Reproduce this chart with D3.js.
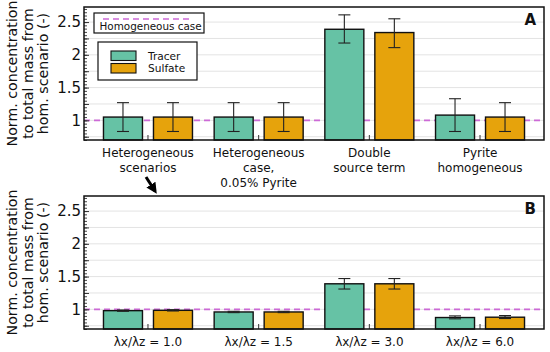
<!DOCTYPE html>
<html><head><meta charset="utf-8">
<script src="https://cdn.jsdelivr.net/npm/d3@7"></script>
<style>body{margin:0;background:#fff}svg{display:block}text{font-family:"DejaVu Sans",sans-serif}</style>
</head><body><svg id="c" width="550" height="352"></svg>
<script>
const categoriesA = [["Heterogeneous","scenarios"],["Heterogeneous","case,","0.05% Pyrite"],["Double","source term"],["Pyrite","homogeneous"]];
const categoriesB = [["λx/λz = 1.0"],["λx/λz = 1.5"],["λx/λz = 3.0"],["λx/λz = 6.0"]];
const series = ["Tracer","Sulfate"];
const tracerA = [1.05, 1.05, 2.39, 1.08];
const tracerALo = [0.83, 0.83, 2.18, 0.83];
const tracerAHi = [1.27, 1.27, 2.61, 1.33];
const sulfateA = [1.05, 1.05, 2.34, 1.05];
const sulfateALo = [0.83, 0.83, 2.11, 0.83];
const sulfateAHi = [1.27, 1.27, 2.55, 1.27];
const tracerB = [0.98, 0.96, 1.39, 0.875];
const tracerBLo = [0.97, 0.95, 1.31, 0.855];
const tracerBHi = [0.99, 0.97, 1.47, 0.90];
const sulfateB = [0.985, 0.96, 1.39, 0.88];
const sulfateBLo = [0.975, 0.95, 1.31, 0.86];
const sulfateBHi = [0.995, 0.97, 1.47, 0.905];
const yTickValues = [1, 1.5, 2, 2.5];
const yTickLabels = ["1", "1.5", "2", "2.5"];
const referenceValue = 1;
const yLabelLines = ["Norm. concentration", "to total mass from", "hom. scenario (-)"];

const colors = {Tracer: "#66c2a5", Sulfate: "#e6a30c"};
const dashColor = "#cc6ad6";
const svg = d3.select("#c");
const L = 84, R = 544;

function panel(top, bottom, cats, data, letter, withLegend) {
  const g = svg.append("g");
  const y = d3.scaleLinear().domain([0.7, 2.73]).range([bottom, top]);
  const x = d3.scaleBand().domain(d3.range(cats.length)).range([L, R]).paddingInner(0).paddingOuter(0.078);
  const xs = d3.scaleBand().domain(series).range([-50, 50]).paddingInner(0.22).paddingOuter(0.11);
  const grid = d3.range(0.75, 2.73, 0.25);
  g.selectAll(".grid").data(grid).join("line")
    .attr("x1", L).attr("x2", R).attr("y1", d => y(d)).attr("y2", d => y(d))
    .attr("stroke", "#e3e3e3").attr("stroke-width", 1);
  g.append("line").attr("x1", L).attr("x2", R).attr("y1", y(referenceValue)).attr("y2", y(referenceValue))
    .attr("stroke", dashColor).attr("stroke-width", 1.6).attr("stroke-dasharray", "6,4");
  const rows = [];
  cats.forEach((c, i) => series.forEach((s, k) => rows.push({i, s, v: data[s].v[i], lo: data[s].lo[i], hi: data[s].hi[i]})));
  const bx = d => x(d.i) + x.bandwidth() / 2 + xs(d.s);
  g.selectAll(".bar").data(rows).join("rect")
    .attr("x", bx).attr("width", xs.bandwidth())
    .attr("y", d => y(d.v)).attr("height", d => bottom - y(d.v))
    .attr("fill", d => colors[d.s]).attr("stroke", "#111").attr("stroke-width", 1.4);
  const cx = d => bx(d) + xs.bandwidth() / 2;
  const eb = g.selectAll(".eb").data(rows).join("g").attr("stroke", "#222").attr("stroke-width", 1.1);
  eb.append("line").attr("x1", cx).attr("x2", cx).attr("y1", d => y(d.lo)).attr("y2", d => y(d.hi));
  eb.append("line").attr("x1", d => cx(d) - 6).attr("x2", d => cx(d) + 6).attr("y1", d => y(d.lo)).attr("y2", d => y(d.lo));
  eb.append("line").attr("x1", d => cx(d) - 6).attr("x2", d => cx(d) + 6).attr("y1", d => y(d.hi)).attr("y2", d => y(d.hi));
  g.selectAll(".ct").data(cats).join("line")
    .attr("x1", (d, i) => x(i) + x.bandwidth() / 2).attr("x2", (d, i) => x(i) + x.bandwidth() / 2)
    .attr("y1", bottom).attr("y2", bottom - 5).attr("stroke", "#333").attr("stroke-width", 1);
  const minor = d3.range(0.7, 2.731, 0.05).map(v => Math.round(v * 100) / 100);
  g.append("g").attr("transform", `translate(${L},0)`)
    .call(d3.axisLeft(y).tickValues(minor).tickSize(-3).tickFormat(""))
    .call(a => a.select(".domain").remove())
    .call(a => a.selectAll("line").attr("stroke", "#444"));
  g.append("g").attr("transform", `translate(${L},0)`)
    .call(d3.axisLeft(y).tickValues(d3.range(0.75, 2.73, 0.25)).tickSize(-5).tickFormat(""))
    .call(a => a.select(".domain").remove())
    .call(a => a.selectAll("line").attr("stroke", "#333"));
  g.append("g").attr("transform", `translate(${L},0)`)
    .call(d3.axisLeft(y).tickValues(yTickValues).tickSize(0).tickPadding(3).tickFormat((d, i) => yTickLabels[i]))
    .call(a => a.select(".domain").remove())
    .call(a => a.selectAll("text").attr("font-size", 15).attr("fill", "#111").attr("font-family", "DejaVu Sans"));
  g.append("rect").attr("x", L).attr("y", top).attr("width", R - L).attr("height", bottom - top)
    .attr("fill", "none").attr("stroke", "#111").attr("stroke-width", 1.5);
  cats.forEach((lines, i) => {
    const t = g.append("text").attr("text-anchor", "middle").attr("font-size", 12).attr("fill", "#111");
    lines.forEach((ln, j) => t.append("tspan").attr("x", x(i) + x.bandwidth() / 2).attr("y", bottom + 17 + j * 15).text(ln));
  });
  const mid = (top + bottom) / 2;
  yLabelLines.forEach((ln, j) => {
    g.append("text").attr("transform", `translate(${17 + j * 15.5},${mid}) rotate(-90)`)
      .attr("text-anchor", "middle").attr("font-size", 14.2).attr("fill", "#111").text(ln);
  });
  g.append("text").attr("x", 536).attr("y", top + 18).attr("text-anchor", "end")
    .attr("font-size", 15).attr("font-weight", "bold").attr("fill", "#111").text(letter);
  if (withLegend) {
    g.append("rect").attr("x", 94).attr("y", top + 6).attr("width", 110).attr("height", 20)
      .attr("fill", "#fff").attr("stroke", "#111").attr("stroke-width", 1.2);
    g.append("line").attr("x1", 103).attr("x2", 192).attr("y1", top + 12).attr("y2", top + 12)
      .attr("stroke", dashColor).attr("stroke-width", 1.6).attr("stroke-dasharray", "6,4");
    g.append("text").attr("x", 99.5).attr("y", top + 22.5).attr("font-size", 10.4).attr("fill", "#111").text("Homogeneous case");
    g.append("rect").attr("x", 98).attr("y", top + 35).attr("width", 99).attr("height", 38)
      .attr("fill", "#fff").attr("stroke", "#111").attr("stroke-width", 1.2);
    series.forEach((s, k) => {
      g.append("rect").attr("x", 111).attr("y", top + 44 + k * 12.5).attr("width", 25).attr("height", 9.5)
        .attr("fill", colors[s]).attr("stroke", "#111").attr("stroke-width", 1.1);
      g.append("text").attr("x", 148).attr("y", top + 52.5 + k * 12.5).attr("font-size", 10.6).attr("fill", "#111").text(s);
    });
  }
}

panel(7, 140, categoriesA, {
  Tracer: {v: tracerA, lo: tracerALo, hi: tracerAHi},
  Sulfate: {v: sulfateA, lo: sulfateALo, hi: sulfateAHi}
}, "A", true);
panel(196, 329, categoriesB, {
  Tracer: {v: tracerB, lo: tracerBLo, hi: tracerBHi},
  Sulfate: {v: sulfateB, lo: sulfateBLo, hi: sulfateBHi}
}, "B", false);

svg.append("defs").append("marker").attr("id", "ah").attr("viewBox", "0 0 10 10")
  .attr("refX", 7).attr("refY", 5).attr("markerWidth", 3.6).attr("markerHeight", 3.6).attr("orient", "auto")
  .append("path").attr("d", "M0,0 L10,5 L0,10 z").attr("fill", "#000");
svg.append("line").attr("x1", 146).attr("y1", 177).attr("x2", 155).attr("y2", 191)
  .attr("stroke", "#000").attr("stroke-width", 3).attr("marker-end", "url(#ah)");
</script></body></html>
